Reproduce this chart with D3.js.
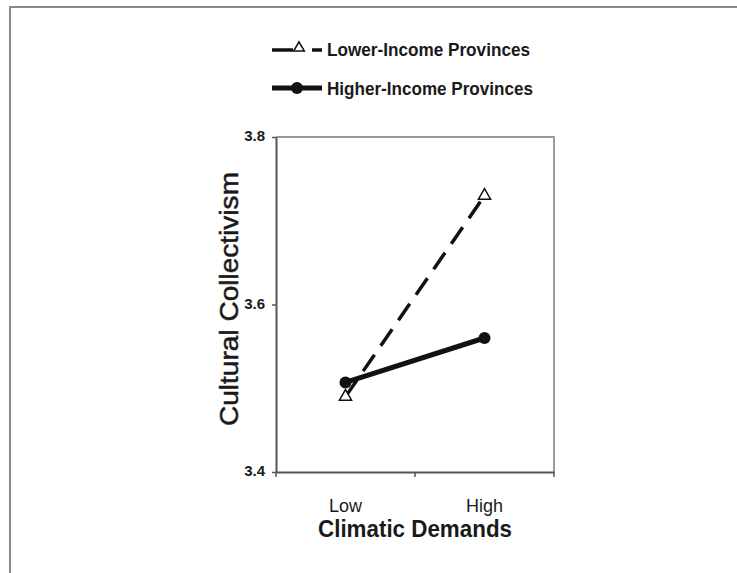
<!DOCTYPE html>
<html>
<head>
<meta charset="utf-8">
<script src="https://cdn.jsdelivr.net/npm/d3@7/dist/d3.min.js"></script>
<style>
  html, body { margin: 0; padding: 0; background: #fff; }
  svg { display: block; }
  text { font-family: "Liberation Sans", Arial, sans-serif; fill: #1a1a1a; }
</style>
</head>
<body>
<svg id="chart" width="737" height="573"></svg>
<script>
// Climatic demands (x categories)
const categories = ["Low", "High"];
// Mean cultural collectivism per province group
const lowerIncome = [3.49, 3.73];
const higherIncome = [3.507, 3.56];
const yTicks = [3.4, 3.6, 3.8];
const seriesNames = ["Lower-Income Provinces", "Higher-Income Provinces"];

const svg = d3.select("#chart");

// outer frame
svg.append("path")
  .attr("d", "M10,573 V7 H737")
  .attr("fill", "none").attr("stroke", "#8a8a8a").attr("stroke-width", 2);

const plotL = 276, plotR = 554, plotT = 137, plotB = 472;

const x = d3.scaleBand().domain(categories).range([plotL, plotR]);
const y = d3.scaleLinear().domain([3.4, 3.8]).range([plotB, plotT]);

// plot box: top and right edges
svg.append("path")
  .attr("d", `M${plotL},${plotT} H${plotR} V${plotB}`)
  .attr("fill", "none").attr("stroke", "#9a9a9a").attr("stroke-width", 2);

// y axis
const yAxis = svg.append("g")
  .attr("transform", `translate(${plotL},0)`)
  .call(d3.axisLeft(y).tickValues(yTicks).tickFormat(d3.format(".1f")).tickSize(4).tickSizeOuter(0));
yAxis.select(".domain").attr("stroke", "#555").attr("stroke-width", 2);
yAxis.selectAll(".tick line").attr("stroke", "#555").attr("stroke-width", 1.5);
yAxis.selectAll(".tick text")
  .attr("x", -11).attr("dy", "0.25em")
  .style("font-family", "'Liberation Sans', Arial, sans-serif")
  .style("font-size", "15px").style("font-weight", "bold").attr("fill", "#1a1a1a");

// x axis: category labels, ticks on category boundaries
const xAxis = svg.append("g")
  .attr("transform", `translate(0,${plotB})`)
  .call(d3.axisBottom(x).tickSize(0).tickSizeOuter(0));
xAxis.select(".domain").attr("stroke", "#555").attr("stroke-width", 2);
xAxis.selectAll(".tick text")
  .attr("y", 27)
  .style("font-family", "'Liberation Sans', Arial, sans-serif")
  .style("font-size", "18px").attr("fill", "#2a2a2a");
const boundaries = [x(categories[0]), x(categories[1]), x(categories[1]) + x.bandwidth()];
xAxis.selectAll("line.boundary").data(boundaries).join("line")
  .attr("class", "boundary")
  .attr("x1", d => d).attr("x2", d => d)
  .attr("y1", 0).attr("y2", 5)
  .attr("stroke", "#555").attr("stroke-width", 1.5);

// axis titles
svg.append("text")
  .attr("transform", `translate(${(plotL + plotR) / 2},537)`)
  .attr("text-anchor", "middle")
  .attr("textLength", 194).attr("lengthAdjust", "spacingAndGlyphs")
  .style("font-size", "23px").style("font-weight", "bold")
  .text("Climatic Demands");

svg.append("text")
  .attr("transform", `translate(238,${(172 + 426) / 2}) rotate(-90)`)
  .attr("text-anchor", "middle")
  .attr("textLength", 254).attr("lengthAdjust", "spacingAndGlyphs")
  .style("font-size", "26px").style("stroke", "#1a1a1a").style("stroke-width", 0.5)
  .text("Cultural Collectivism");

const cx = c => x(c) + x.bandwidth() / 2;
const line = d3.line().x((d, i) => cx(categories[i])).y(d => y(d));

// lower-income series: dashed line with open triangles
svg.append("path")
  .datum(lowerIncome)
  .attr("d", line)
  .attr("fill", "none").attr("stroke", "#111").attr("stroke-width", 3.5)
  .attr("stroke-dasharray", "20,11");
const tri = d3.symbol().type(d3.symbolTriangle).size(64);
svg.selectAll("path.tri").data(lowerIncome).join("path")
  .attr("class", "tri")
  .attr("d", tri)
  .attr("transform", (d, i) => `translate(${cx(categories[i])},${y(d)})`)
  .attr("fill", "#fff").attr("stroke", "#111").attr("stroke-width", 1.5);

// higher-income series: solid line with filled dots
svg.append("path")
  .datum(higherIncome)
  .attr("d", line)
  .attr("fill", "none").attr("stroke", "#111").attr("stroke-width", 5);
svg.selectAll("circle.dot").data(higherIncome).join("circle")
  .attr("class", "dot")
  .attr("cx", (d, i) => cx(categories[i])).attr("cy", d => y(d))
  .attr("r", 6).attr("fill", "#111");

// legend
const lg = svg.append("g");
lg.append("line").attr("x1", 272).attr("x2", 293).attr("y1", 50).attr("y2", 50)
  .attr("stroke", "#111").attr("stroke-width", 3.5);
lg.append("line").attr("x1", 312).attr("x2", 322).attr("y1", 50).attr("y2", 50)
  .attr("stroke", "#111").attr("stroke-width", 3.5);
lg.append("path").attr("d", d3.symbol().type(d3.symbolTriangle).size(50)).attr("transform", "translate(299,48)")
  .attr("fill", "#fff").attr("stroke", "#111").attr("stroke-width", 1.5);
lg.append("line").attr("x1", 272).attr("x2", 322).attr("y1", 88).attr("y2", 88)
  .attr("stroke", "#111").attr("stroke-width", 5);
lg.append("circle").attr("cx", 297).attr("cy", 88).attr("r", 6).attr("fill", "#111");

lg.selectAll("text").data(seriesNames).join("text")
  .attr("x", 327).attr("y", (d, i) => 56 + i * 39)
  .attr("textLength", (d, i) => i === 0 ? 203 : 206)
  .attr("lengthAdjust", "spacingAndGlyphs")
  .style("font-size", "18px").style("font-weight", "bold")
  .text(d => d);
</script>
</body>
</html>
